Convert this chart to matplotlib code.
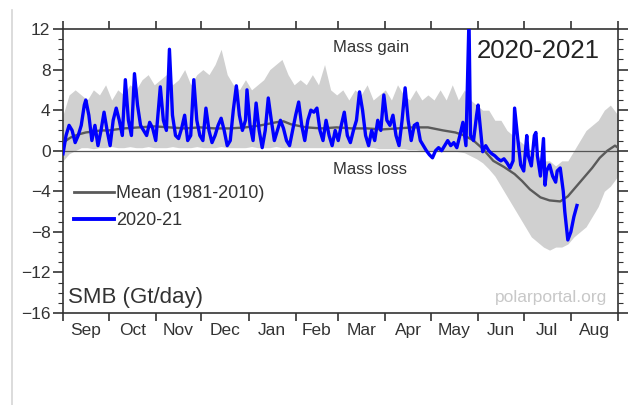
import matplotlib
matplotlib.use("Agg")
import matplotlib.pyplot as plt
from matplotlib.lines import Line2D

plt.rcParams['font.family'] = ['Liberation Sans', 'DejaVu Sans']

# ---------------- data ----------------
months = ["Sep", "Oct", "Nov", "Dec", "Jan", "Feb", "Mar", "Apr", "May", "Jun", "Jul", "Aug"]
month_starts = [0, 30, 61, 91, 122, 153, 181, 212, 242, 273, 303, 334, 365]
yticks = [-16, -12, -8, -4, 0, 4, 8, 12]

# 2020-21 daily SMB (day index from 1 Sep 2020)
blue_days = [0, 2, 4, 6, 8, 10, 12, 14, 15, 17, 19, 21, 23, 25, 27, 29, 31, 33, 35, 37,
             39, 41, 43, 45, 47, 49, 51, 53, 55, 57, 59, 61, 64, 66, 68, 70, 72, 74, 76, 78,
             80, 82, 84, 86, 88, 90, 92, 94, 96, 98, 100, 102, 104, 106, 108, 110, 112, 114, 116, 118,
             120, 121, 123, 125, 127, 129, 131, 133, 135, 137, 139, 141, 143, 145, 147, 149, 151, 153, 155, 157,
             159, 161, 163, 165, 167, 169, 171, 173, 175, 177, 179, 181, 183, 185, 187, 189, 191, 193, 195, 197,
             199, 201, 203, 205, 207, 209, 211, 213, 215, 217, 219, 221, 223, 225, 227, 229, 231, 233, 235, 237,
             239, 241, 243, 245, 247, 249, 251, 253, 255, 257, 259, 261, 263, 265, 267, 268, 270, 272, 273, 275,
             276, 278, 280, 282, 284, 286, 288, 290, 292, 294, 296, 297, 299, 301, 303, 305, 306, 308, 310, 311,
             312, 314, 316, 317, 318, 320, 322, 324, 325, 327, 329, 330, 332, 334, 336, 338]
blue_vals = [-0.3, 1.5, 2.5, 2.0, 0.8, 1.5, 2.5, 4.5, 5.0, 3.5, 1.0, 2.5, 0.5, 2.0, 3.8, 2.0, 0.5, 3.0, 4.2, 3.0,
             1.5, 7.0, 3.0, 1.5, 7.6, 4.5, 2.5, 2.0, 1.5, 2.8, 2.2, 1.0, 6.3, 3.0, 2.0, 10.0, 3.5, 1.5, 1.2, 2.2,
             3.5, 1.0, 1.5, 7.0, 3.0, 1.5, 1.0, 4.2, 2.0, 0.8, 1.5, 2.5, 3.2, 2.0, 0.5, 1.0, 4.0, 6.4, 3.5, 2.0,
             3.0, 6.0, 2.5, 1.0, 4.7, 2.0, 0.3, 2.0, 5.2, 3.0, 1.0, 2.0, 3.0, 2.2, 1.0, 0.5, 2.0, 3.5, 4.8, 2.5,
             1.0, 3.0, 4.0, 3.8, 4.2, 2.0, 1.0, 3.0, 1.5, 0.5, 2.0, 1.0, 2.5, 3.8, 1.5, 0.8, 2.0, 3.0, 5.8, 4.0,
             1.5, 0.5, 2.0, 1.0, 3.0, 2.0, 5.5, 3.0, 2.5, 3.5, 1.5, 0.5, 3.0, 6.2, 3.0, 1.0, 2.5, 2.7, 1.0, 0.5,
             0.0, -0.4, -0.7, 0.0, 0.3, 0.0, 0.5, 1.0, 0.5, 0.8, 0.3, 1.5, 2.8, 0.5, 13.0, 1.5, 1.0, 3.5, 4.5, 1.5,
             -0.1, 0.5, 0.0, -0.3, -0.5, -0.8, -1.0, -0.8, -1.2, -1.7, -1.0, 4.2, 1.3, -1.4, -2.0, 1.5, -0.5, -1.5, 1.5, 1.8,
             -0.5, -2.5, 1.2, -3.4, -2.0, -1.4, -2.5, -3.1, -2.0, -1.7, -4.0, -6.0, -8.8, -8.0, -6.5, -5.4]

# Mean 1981-2010
mean_days = [0, 5, 10, 15, 20, 25, 30, 40, 50, 60, 70, 80, 90, 100, 110, 120, 130, 140, 145, 150,
             160, 170, 180, 190, 200, 210, 220, 230, 240, 250, 258, 264, 270, 276, 283, 290, 297, 302, 307, 314,
             320, 327, 332, 340, 348, 353, 358, 363, 365]
mean_vals = [0.8, 1.3, 1.6, 1.8, 1.9, 2.0, 2.0, 2.2, 2.3, 2.4, 2.3, 2.2, 2.3, 2.2, 2.2, 2.3, 2.5, 2.8, 2.9, 2.6,
             2.3, 2.2, 2.3, 2.2, 2.2, 2.1, 2.2, 2.3, 2.3, 2.0, 1.8, 1.5, 1.0, 0.2, -1.0, -1.6, -2.3, -3.0, -3.8, -4.6,
             -4.9, -5.0, -4.5, -3.1, -1.7, -0.7, 0.0, 0.5, 0.3]

# Min-max range 1981-2010
band_days = [0, 4, 8, 12, 16, 20, 24, 28, 32, 36, 40, 44, 48, 52, 56, 60, 64, 68, 72, 76,
             80, 84, 88, 92, 96, 100, 104, 108, 112, 116, 120, 124, 128, 132, 136, 140, 144, 148, 152, 156,
             160, 164, 168, 172, 176, 180, 184, 188, 192, 196, 200, 204, 208, 212, 216, 220, 224, 228, 232, 236,
             240, 244, 248, 252, 256, 260, 264, 268, 272, 276, 280, 284, 288, 292, 296, 300, 304, 308, 312, 316,
             320, 324, 328, 332, 336, 340, 344, 348, 352, 356, 360, 365]
band_upper = [3.5, 5.5, 6.0, 5.5, 5.0, 6.0, 5.5, 6.5, 5.0, 6.0, 5.5, 6.5, 6.0, 7.0, 7.5, 6.5, 7.0, 7.5, 6.5, 7.0,
              8.0, 6.5, 7.5, 8.0, 7.5, 8.5, 10.0, 7.5, 6.5, 6.0, 7.0, 6.0, 6.5, 7.0, 8.0, 8.5, 9.0, 7.5, 6.5, 7.0,
              6.5, 7.5, 6.5, 8.5, 6.0, 5.5, 6.0, 5.0, 6.0, 5.5, 6.5, 5.0, 5.5, 6.0, 5.0, 6.5, 5.5, 5.0, 6.0, 5.0,
              5.5, 5.0, 6.0, 5.0, 6.5, 5.0, 6.0, 5.0, 4.5, 4.0, 4.0, 3.0, 3.0, 2.0, 1.5, 1.0, 0.5, 0.0, -0.5, -1.0,
              -1.0, -1.5, -1.0, -1.0, 0.0, 1.0, 2.0, 2.5, 3.0, 4.0, 4.5, 3.5]
band_lower = [-1.0, -0.3, 0.0, 0.3, 0.3, 0.2, 0.3, 0.3, 0.4, 0.3, 0.3, 0.4, 0.3, 0.3, 0.4, 0.3, 0.3, 0.3, 0.4, 0.3,
              0.3, 0.3, 0.4, 0.3, 0.3, 0.3, 0.4, 0.3, 0.3, 0.3, 0.3, 0.4, 0.3, 0.3, 0.3, 0.4, 0.3, 0.3, 0.3, 0.3,
              0.3, 0.3, 0.3, 0.3, 0.3, 0.3, 0.3, 0.3, 0.3, 0.3, 0.3, 0.3, 0.2, 0.2, 0.2, 0.2, 0.2, 0.1, 0.1, 0.0,
              0.0, 0.0, 0.0, 0.0, 0.0, -0.1, -0.2, -0.5, -0.8, -1.2, -1.8, -2.5, -3.5, -4.5, -5.5, -6.5, -7.5, -8.5, -9.0, -9.5,
              -9.8, -9.5, -9.5, -9.2, -8.5, -8.0, -7.5, -6.5, -5.5, -4.0, -3.5, -2.5]

# ---------------- figure ----------------
W, H = 633, 405
fig = plt.figure(figsize=(W / 100, H / 100), dpi=100)
ax = fig.add_axes([63 / W, 1 - 313 / H, 555 / W, 284 / H])

dark = '#333333'
ax.fill_between(band_days, band_lower, band_upper, color='#d0d0d0', lw=0, zorder=1)
ax.axhline(0, color='#555555', lw=0.9, zorder=2)
mean_line, = ax.plot(mean_days, mean_vals, color='#5a5a5a', lw=1.7, zorder=3)
blue_line, = ax.plot(blue_days, blue_vals, color='#0000ff', lw=2.4, zorder=4)

ax.set_xlim(0, 365)
ax.set_ylim(-16, 12)

mids = [(month_starts[i] + month_starts[i + 1]) / 2 for i in range(12)]
ax.set_xticks(month_starts)
ax.set_xticklabels([])
ax.set_xticks(mids, minor=True)
ax.set_xticklabels(months, minor=True)
ax.tick_params(axis='x', which='major', direction='out', length=6, width=1.2,
               color=dark, top=True, bottom=True)
ax.tick_params(axis='x', which='minor', length=0, pad=7, labelsize=12.5, labelcolor=dark)

ax.set_yticks(yticks)
ax.set_yticks(range(-16, 13), minor=True)
ax.tick_params(axis='y', which='major', direction='out', length=7, width=1.2, color=dark,
               left=True, right=True, labelsize=12.5, labelcolor=dark, pad=2)
ax.tick_params(axis='y', which='minor', direction='out', length=3.5, width=0.8, color=dark,
               left=True, right=True)

for s in ax.spines.values():
    s.set_color(dark)
    s.set_linewidth(1.2)

# texts
ax.text(177.5, 10.2, "Mass gain", fontsize=12, color='#333333', va='center', ha='left')
ax.text(177.5, -1.9, "Mass loss", fontsize=12, color='#333333', va='center', ha='left')
ax.text(272, 9.8, "2020-2021", fontsize=18.5, color='#222222', va='center', ha='left')
ax.text(3.3, -14.5, "SMB (Gt/day)", fontsize=16, color='#333333', va='center', ha='left')
ax.text(358, -14.5, "polarportal.org", fontsize=12.5, color='#c8c8c8', va='center', ha='right')

leg = ax.legend([mean_line, blue_line], ["Mean (1981-2010)", "2020-21"],
                loc='upper left', bbox_to_anchor=(0.02, 0.45), frameon=False,
                fontsize=13, handlelength=2.2, handletextpad=0.1, labelspacing=0.55,
                borderaxespad=0, borderpad=0)
for t in leg.get_texts():
    t.set_color('#333333')
leg.get_lines()[0].set_linewidth(2.0)
leg.get_lines()[1].set_linewidth(2.8)

fig.add_artist(Line2D([12 / W, 12 / W], [0, 1 - 10 / H], transform=fig.transFigure,
                      color='#d5d5d5', lw=1.2))

fig.savefig("out.png", dpi=100)
